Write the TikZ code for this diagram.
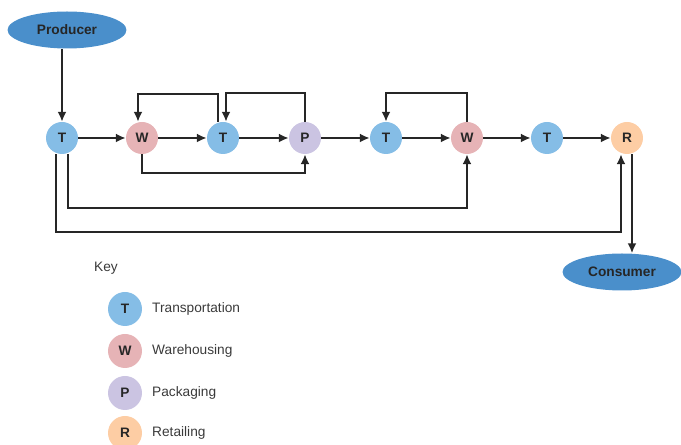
\documentclass[tikz,border=0pt]{standalone}
\usepackage{fontspec}
\setmainfont{Liberation Sans}
\usepackage{xcolor}
\usepackage{tikz}
\usetikzlibrary{shapes.geometric, arrows.meta, positioning, calc}
\definecolor{transblue}{HTML}{85BDE6}
\definecolor{warepink}{HTML}{E6B3B6}
\definecolor{packlilac}{HTML}{CBC4E2}
\definecolor{retailpeach}{HTML}{FDCDA4}
\definecolor{endblue}{HTML}{4A8FCB}
\definecolor{linegray}{HTML}{262626}
\definecolor{keytext}{HTML}{3A3A3A}

\begin{document}
\begin{tikzpicture}[
    x=0.02cm, y=-0.02cm,
    stage/.style={circle, fill=#1, minimum size=0.64cm, inner sep=0pt,
                  text=black!85, font=\fontsize{7.8}{9}\selectfont\bfseries},
    keystage/.style={stage=#1, minimum size=0.68cm},
    endpoint/.style={ellipse, fill=endblue, minimum width=2.38cm, minimum height=0.74cm,
                     inner sep=0pt, text=black!85, font=\fontsize{7.8}{9}\selectfont\bfseries},
    keylabel/.style={anchor=west, text=keytext, font=\fontsize{7.8}{9}\selectfont},
    flow/.style={draw=linegray, line width=1pt, -{Latex[length=5.5pt,width=5pt]}},
]
\useasboundingbox (0,0) rectangle (681,445);

% End points
\node[endpoint] (producer) at (67,30) {Producer};
\node[endpoint] (consumer) at (622,272) {Consumer};

% Main chain
\node[stage=transblue] (t1) at (62,138) {T};
\node[stage=warepink] (w1) at (142,138) {W};
\node[stage=transblue] (t2) at (223,138) {T};
\node[stage=packlilac] (p1) at (305,138) {P};
\node[stage=transblue] (t3) at (386,138) {T};
\node[stage=warepink] (w2) at (467,138) {W};
\node[stage=transblue] (t4) at (547,138) {T};
\node[stage=retailpeach] (r1) at (627,138) {R};

% Forward flow
\draw[flow] (t1 |- producer.south) -- (t1.north);
\foreach \a/\b in {t1/w1, w1/t2, t2/p1, p1/t3, t3/w2, w2/t4, t4/r1}
    \draw[flow] (\a) -- (\b);
\coordinate (rout) at ($(r1.south)+(5,0)$);
\draw[flow] (rout) -- (rout |- consumer.north);

% Loops above
\draw[flow] ($(t2.north)+(-5,0)$) |- ($(w1.north)+(-4,-28)$) -- ($(w1.north)+(-4,0)$);
\draw[flow] (p1.north) |- ($(t2.north)+(3,-29)$) -- ($(t2.north)+(3,0)$);
\draw[flow] (w2.north) |- ($(t3.north)+(0,-29)$) -- (t3.north);

% Bypasses below
\draw[flow] (w1.south) |- ($(p1.south)+(0,19)$) -- (p1.south);
\draw[flow] ($(t1.south)+(6,0)$) |- ($(w2.south)+(0,54)$) -- (w2.south);
\draw[flow] ($(t1.south)+(-6,0)$) |- ($(r1.south)+(-6,78)$) -- ($(r1.south)+(-6,0)$);

% Key
\node[keylabel] (keytitle) at (88,268) {Key};
\foreach \n/\y/\c/\l/\t in {kt/309/transblue/T/Transportation, kw/351/warepink/W/Warehousing,
                            kp/393/packlilac/P/Packaging, kr/433/retailpeach/R/Retailing} {
    \node[keystage=\c] (\n) at (125,\y) {\l};
    \node[keylabel] (\n-text) at (146,\y) {\t};
}

\end{tikzpicture}
\end{document}
